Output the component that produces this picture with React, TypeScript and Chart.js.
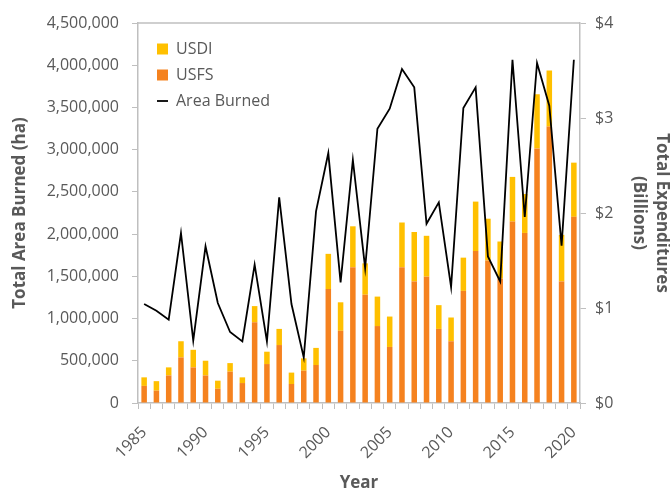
import React, { useEffect, useRef } from "react";
import { Chart, registerables } from "chart.js";

Chart.register(...registerables);

const years: string[] = [
  "1985", "1986", "1987", "1988", "1989", "1990", "1991", "1992", "1993", "1994",
  "1995", "1996", "1997", "1998", "1999", "2000", "2001", "2002", "2003", "2004",
  "2005", "2006", "2007", "2008", "2009", "2010", "2011", "2012", "2013", "2014",
  "2015", "2016", "2017", "2018", "2019", "2020",
];

// Billions of dollars
const usfs: number[] = [
  0.18, 0.13, 0.29, 0.48, 0.375, 0.29, 0.15, 0.33, 0.21, 0.85,
  0.41, 0.61, 0.2, 0.34, 0.4, 1.2, 0.76, 1.43, 1.14, 0.81,
  0.59, 1.43, 1.28, 1.33, 0.78, 0.65, 1.18, 1.6, 1.5, 1.31,
  1.91, 1.79, 2.68, 2.91, 1.28, 1.96,
];

const usdi: number[] = [
  0.09, 0.1, 0.085, 0.17, 0.185, 0.155, 0.085, 0.09, 0.06, 0.17,
  0.13, 0.17, 0.12, 0.13, 0.18, 0.37, 0.3, 0.43, 0.33, 0.31,
  0.32, 0.47, 0.52, 0.43, 0.25, 0.25, 0.35, 0.52, 0.44, 0.39,
  0.47, 0.41, 0.57, 0.59, 0.49, 0.57,
];

// Hectares
const areaBurned: number[] = [
  1172000, 1093000, 986000, 2013000, 738000, 1855000, 1184000, 841000, 730000, 1638000,
  730000, 2435000, 1172000, 540000, 2269000, 2960000, 1428000, 2878000, 1599000, 3248000,
  3485000, 3955000, 3738000, 2123000, 2376000, 1374000, 3493000, 3738000, 1736000, 1440000,
  4065000, 2203000, 4026000, 3521000, 1863000, 4065000,
];

const legendOrder: string[] = ["USDI", "USFS", "Area Burned"];

const FONT = "'Open Sans', 'Noto Sans', sans-serif";
const TEXT = "#595959";
const AXIS = "#BFBFBF";

const topBorder = {
  id: "topBorder",
  afterDatasetsDraw(chart: any) {
    const { ctx, chartArea } = chart;
    ctx.save();
    ctx.strokeStyle = AXIS;
    ctx.lineWidth = 1.5;
    ctx.beginPath();
    ctx.moveTo(chartArea.left, chartArea.top);
    ctx.lineTo(chartArea.right, chartArea.top);
    ctx.stroke();
    ctx.restore();
  },
};

const legendShift = {
  id: "legendShift",
  afterLayout(chart: any) {
    const l = chart.legend;
    if (l) {
      l.left = chart.chartArea.left + 9;
      l.top = chart.chartArea.top + 8;
    }
  },
};

export default function App() {
  const ref = useRef<HTMLCanvasElement | null>(null);

  useEffect(() => {
    document.body.style.margin = "0";
    if (!ref.current) return;
    const chart = new Chart(ref.current, {
      type: "bar",
      data: {
        labels: years,
        datasets: [
          {
            type: "bar",
            label: "USFS",
            data: usfs,
            backgroundColor: "#F5821F",
            yAxisID: "y1",
            stack: "exp",
            pointStyle: "rect",
            categoryPercentage: 1,
            barPercentage: 0.45,
          } as any,
          {
            type: "bar",
            label: "USDI",
            data: usdi,
            backgroundColor: "#FFC000",
            yAxisID: "y1",
            stack: "exp",
            pointStyle: "rect",
            categoryPercentage: 1,
            barPercentage: 0.45,
          } as any,
          {
            type: "line",
            label: "Area Burned",
            data: areaBurned,
            borderColor: "#000000",
            backgroundColor: "#000000",
            borderWidth: 1.8,
            pointRadius: 0,
            tension: 0,
            yAxisID: "y",
            order: -1,
            pointStyle: "line",
          } as any,
        ],
      },
      options: {
        responsive: false,
        animation: false,
        devicePixelRatio: 1,
        layout: { padding: { top: 23, left: 0, right: 0, bottom: 0 } },
        plugins: {
          tooltip: { enabled: false },
          legend: {
            position: "chartArea" as any,
            align: "start",
            labels: {
              usePointStyle: true,
              boxHeight: 11,
              pointStyleWidth: 11,
              padding: 10,
              color: TEXT,
              font: { family: FONT, size: 16 },
              sort: (a: any, b: any) =>
                legendOrder.indexOf(a.text) - legendOrder.indexOf(b.text),
            },
          },
        },
        scales: {
          x: {
            stacked: true,
            offset: true,
            grid: {
              display: true,
              offset: true,
              drawOnChartArea: false,
              drawTicks: true,
              tickLength: 6,
              color: AXIS,
            },
            border: { display: true, color: AXIS, width: 1.5 },
            ticks: {
              autoSkip: false,
              maxRotation: 45,
              minRotation: 45,
              color: TEXT,
              font: { family: FONT, size: 16 },
              padding: 14,
              callback: function (this: any, value: any) {
                const lbl = String(this.getLabelForValue(value));
                return Number(lbl) % 5 === 0 ? lbl : "";
              },
            },
            title: {
              display: true,
              text: "Year",
              color: TEXT,
              font: { family: FONT, size: 17, weight: "bold" },
              padding: { top: 0, bottom: -2 },
            },
            afterFit: (s: any) => {
              s.height = 88;
            },
          },
          y: {
            position: "left",
            min: 0,
            max: 4500000,
            grid: {
              display: true,
              drawOnChartArea: false,
              drawTicks: true,
              tickLength: 6,
              color: AXIS,
            },
            border: { display: true, color: AXIS, width: 1.5 },
            ticks: {
              stepSize: 500000,
              color: TEXT,
              padding: 13,
              font: { family: FONT, size: 16 },
              callback: (v: any) => Number(v).toLocaleString("en-US"),
            },
            title: {
              display: true,
              text: "Total Area Burned (ha)",
              color: TEXT,
              font: { family: FONT, size: 17, weight: "bold" },
              padding: { top: 10, bottom: 0 },
            },
            afterFit: (s: any) => {
              s.width = 138;
            },
          },
          y1: {
            position: "right",
            stacked: true,
            min: 0,
            max: 4,
            grid: {
              display: true,
              drawOnChartArea: false,
              drawTicks: true,
              tickLength: 6,
              color: AXIS,
            },
            border: { display: true, color: AXIS, width: 1.5 },
            ticks: {
              stepSize: 1,
              color: TEXT,
              padding: 9,
              font: { family: FONT, size: 16 },
              callback: (v: any) => "$" + v,
            },
            title: {
              display: true,
              text: ["Total Expenditures", "(Billions)"],
              color: TEXT,
              font: { family: FONT, size: 17, weight: "bold", lineHeight: 1.35 },
              padding: { top: -3, bottom: 0 },
            },
            afterFit: (s: any) => {
              s.width = 90;
            },
          },
        },
      },
      plugins: [topBorder, legendShift],
    });
    return () => chart.destroy();
  }, []);

  return (
    <div style={{ width: 670, height: 491 }}>
      <canvas ref={ref} width={670} height={491} />
    </div>
  );
}
